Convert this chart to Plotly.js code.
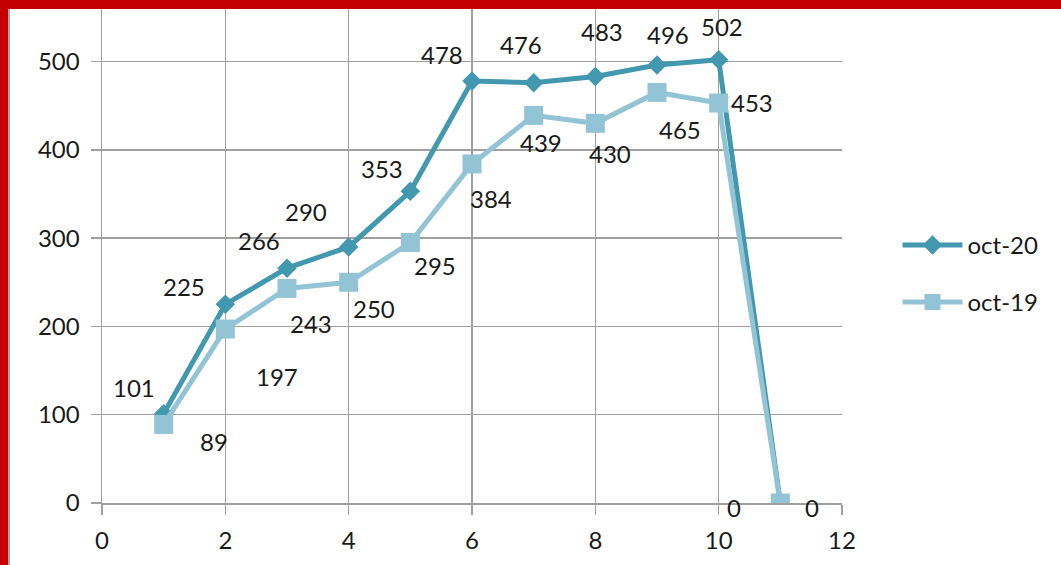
<!DOCTYPE html>
<html>
<head>
<meta charset="utf-8">
<script src="https://cdn.plot.ly/plotly-3.0.1.min.js"></script>
<style>
  html, body { margin:0; padding:0; width:1061px; height:565px; overflow:hidden; background:#c40000; }
  #frame { position:absolute; left:8px; top:9px; width:1051px; height:556px; background:#ffffff; border-left:2px solid #a6a6a6; }
  #chart { position:absolute; left:0; top:0; width:1051px; height:556px; }
</style>
</head>
<body>
<div id="frame"><div id="chart"></div></div>
<script>
// ---- data ----
const xValues = [1, 2, 3, 4, 5, 6, 7, 8, 9, 10, 11];
const oct20 = [101, 225, 266, 290, 353, 478, 476, 483, 496, 502, 0];
const oct19 = [89, 197, 243, 250, 295, 384, 439, 430, 465, 453, 0];
const seriesNames = ['oct-20', 'oct-19'];

// label offsets (screen px, dx right, dy down) — placement only
const off20 = [[-30,-26],[-41,-18],[-28,-28],[-43,-35],[-28,-23],[-30,-26],[-13,-38],[7,-45],[11,-31],[3,-33],[-46,4]];
const off19 = [[50,17],[52,47],[24,35],[25,26],[25,23],[19,35],[7,27],[15,30],[23,37],[33,-1],[32,4]];

const dark = '#4198af';
const light = '#93c4d5';
const txt = '#1a1a1a';
const FONT = 'Lato, "Open Sans", sans-serif';
const FS = 24;

const traces = [
  {
    x: xValues, y: oct20, name: seriesNames[0], type: 'scatter', mode: 'lines+markers',
    line: {color: dark, width: 5},
    marker: {symbol: 'diamond', size: 15, color: dark},
    legendgroup: 'a'
  },
  {
    x: xValues, y: oct19, name: seriesNames[1], type: 'scatter', mode: 'lines+markers',
    line: {color: light, width: 5},
    marker: {symbol: 'square', size: 19, color: light},
    legendgroup: 'b'
  }
];

const annotations = [];
xValues.forEach((xv, i) => {
  annotations.push({x: xv, y: oct20[i], text: String(oct20[i]), showarrow: false,
    xshift: off20[i][0], yshift: -off20[i][1], font: {family: FONT, size: FS, color: txt}});
  annotations.push({x: xv, y: oct19[i], text: String(oct19[i]), showarrow: false,
    xshift: off19[i][0], yshift: -off19[i][1], font: {family: FONT, size: FS, color: txt}});
});

const layout = {
  width: 1051, height: 556,
  margin: {l: 92, r: 219, t: 0, b: 62},
  paper_bgcolor: '#ffffff', plot_bgcolor: '#ffffff',
  font: {family: FONT, size: FS, color: txt},
  xaxis: {
    range: [0, 12], dtick: 2, tick0: 0,
    showgrid: true, gridcolor: '#a0a0a0', gridwidth: 1.5,
    showline: true, linecolor: '#a0a0a0', linewidth: 1.5,
    ticks: 'outside', ticklen: 10, tickcolor: '#a0a0a0', tickwidth: 1.5,
    ticklabelstandoff: 6,
    zeroline: false, fixedrange: true
  },
  yaxis: {
    range: [0, 559.5], dtick: 100, tick0: 0,
    showgrid: true, gridcolor: '#a0a0a0', gridwidth: 1.5,
    showline: true, linecolor: '#a0a0a0', linewidth: 1.5,
    ticks: 'outside', ticklen: 10, tickcolor: '#a0a0a0', tickwidth: 1.5,
    ticklabelstandoff: 6,
    zeroline: false, fixedrange: true
  },
  showlegend: true,
  legend: {
    x: 1.075, y: 0.464, xanchor: 'left', yanchor: 'middle',
    traceorder: 'grouped', tracegroupgap: 23,
    itemwidth: 60,
    font: {family: FONT, size: FS, color: txt},
    bgcolor: 'rgba(0,0,0,0)'
  },
  annotations: annotations
};

Plotly.newPlot('chart', traces, layout, {displayModeBar: false, staticPlot: true});
</script>
</body>
</html>
